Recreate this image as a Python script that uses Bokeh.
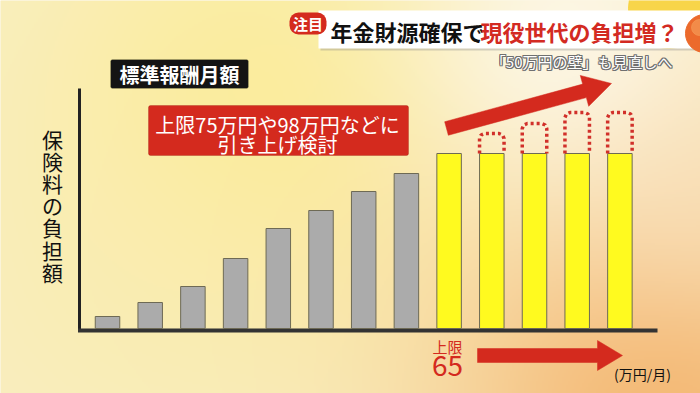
import numpy as np
from bokeh.plotting import figure
from bokeh.models import Range1d, BoxAnnotation
from bokeh.core.properties import value
from bokeh.embed import file_html
from bokeh.resources import INLINE

# ---------------- data ----------------
grade = list(range(1, 14))                      # 標準報酬月額 levels (left -> right)
burden = [14, 28, 44, 72, 102, 120, 139, 157, 177, 177, 177, 177, 177]   # 保険料の負担額 (relative)
capped = [False] * 8 + [True] * 5               # at the 65万円 cap
raised = [None] * 9 + [197, 207, 218, 218]      # burden if cap is raised (dotted)

title_black = "年金財源確保で"
title_red = "現役世代の負担増？"
subtitle = "「50万円の壁」も見直しへ"
badge = "注目"
x_title = "標準報酬月額"
y_title = "保険料の負担額"
note_lines = ["上限75万円や98万円などに", "引き上げ検討"]
cap_label = ["上限", "65"]
unit_label = "(万円/月)"

F = "Noto Sans CJK JP"
RED = "#d42a1e"

# ---------------- mapping helpers (reference pixel -> data) ----------------
SP = 42.7
def dx(px):
    return 1 + (px - 107) / SP
def dy(py):
    return 330 - py

p = figure(width=700, height=393, x_range=Range1d(dx(0), dx(700)),
           y_range=Range1d(dy(393), dy(0)), output_backend="svg",
           toolbar_location=None, min_border=0)
p.axis.visible = False
p.grid.visible = False
p.outline_line_color = None
p.background_fill_color = "#f9efc9"
p.border_fill_color = "#f9efc9"

# ---------------- background gradient ----------------
W, H = 350, 197
gx = (np.arange(W) + 0.5) * 700 / W
gy = 393 - (np.arange(H) + 0.5) * 393 / H
XX, YY = np.meshgrid(gx, gy)
col = np.zeros((H, W, 3))
col[:] = (249, 239, 200)
blobs = [
    (260, 110, 170, (252, 236, 140), 0.75),
    (120, 300, 150, (250, 236, 175), 0.5),
    (670, 400, 170, (244, 182, 112), 0.95),
    (570, 40, 110, (253, 249, 236), 0.85),
    (700, 200, 90, (250, 225, 190), 0.5),
]
for cx, cy, s, c, w in blobs:
    k = w * np.exp(-((XX - cx) ** 2 + (YY - cy) ** 2) / (2 * s * s))
    for i in range(3):
        col[..., i] = col[..., i] * (1 - k) + c[i] * k
img = np.zeros((H, W), dtype=np.uint32)
view = img.view(dtype=np.uint8).reshape((H, W, 4))
view[..., :3] = np.clip(col, 0, 255).astype(np.uint8)
view[..., 3] = 255
bg = p.image_rgba(image=[img], x=dx(0), y=dy(393), dw=dx(700) - dx(0), dh=dy(0) - dy(393))
bg.level = "image"

# decorative ball behind the banner
yb = p.scatter(x=[dx(668)], y=[dy(8)], size=80, color="#f7d23a", alpha=0.9)
yb.level = "image"

# ---------------- title banner ----------------
p.add_layout(BoxAnnotation(left=dx(320), right=dx(710), top=dy(12), bottom=dy(50),
                           fill_color="#888888", fill_alpha=0.35, line_color=None,
                           level="underlay"))
p.add_layout(BoxAnnotation(left=dx(318), right=dx(710), top=dy(10), bottom=dy(48),
                           fill_color="white", fill_alpha=1, line_color=None,
                           level="underlay"))
p.scatter(x=[dx(704)], y=[dy(33)], size=38, color="#ec6a2c")
p.scatter(x=[dx(699)], y=[dy(27)], size=16, color="#f59a55", alpha=0.7)

p.add_layout(BoxAnnotation(left=dx(289), right=dx(326), top=dy(12), bottom=dy(34),
                           fill_color=RED, fill_alpha=1, line_color=None, border_radius=9,
                           level="underlay"))
p.text(x=[dx(307.5)], y=[dy(23)], text=[badge], text_font=value(F), text_font_size="15px",
       text_font_style="bold", text_color="white", text_align="center", text_baseline="middle")
p.text(x=[dx(330)], y=[dy(30)], text=[title_black], text_font=value(F), text_font_size="22px",
       text_font_style="bold", text_color="#111111", text_align="left", text_baseline="middle")
p.text(x=[dx(480)], y=[dy(30)], text=[title_red], text_font=value(F), text_font_size="22px",
       text_font_style="bold", text_color="#d32a22", text_align="left", text_baseline="middle")

# subtitle (outlined)
for ox, oy in [(-1, 0), (1, 0), (0, -1), (0, 1), (-1, -1), (1, 1), (-1, 1), (1, -1)]:
    p.text(x=[dx(672)], y=[dy(61)], text=[subtitle], text_font=value(F), text_font_size="15px",
           text_color="#6f6f6f", text_align="right", text_baseline="middle",
           x_offset=ox, y_offset=oy)
p.text(x=[dx(672)], y=[dy(61)], text=[subtitle], text_font=value(F), text_font_size="15px",
       text_color="white", text_align="right", text_baseline="middle")

# ---------------- x title box ----------------
p.add_layout(BoxAnnotation(left=dx(110), right=dx(248), top=dy(59), bottom=dy(88),
                           fill_color="#141414", fill_alpha=1, line_color="#d8cf7a",
                           line_width=1, border_radius=2, level="underlay"))
p.text(x=[dx(179)], y=[dy(73.5)], text=[x_title], text_font=value(F), text_font_size="20px",
       text_font_style="bold", text_color="white", text_align="center", text_baseline="middle")

# ---------------- red note box ----------------
p.add_layout(BoxAnnotation(left=dx(148), right=dx(408), top=dy(105), bottom=dy(155),
                           fill_color=RED, fill_alpha=1, line_color="#9a1a10",
                           line_width=1, border_radius=2, level="underlay"))
p.text(x=[dx(277)] * 2, y=[dy(124), dy(144)], text=note_lines, text_font=value(F),
       text_font_size="20px", text_color="white", text_align="center", text_baseline="middle")

# ---------------- y title (vertical) ----------------
chars = list(y_title)
p.text(x=[dx(52)] * len(chars), y=[dy(138.5 + 22.1 * i) for i in range(len(chars))],
       text=chars, text_font=value(F), text_font_size="21px", text_color="#111111",
       text_align="center", text_baseline="middle")

# ---------------- axes lines ----------------
p.segment(x0=[dx(79)], y0=[dy(88)], x1=[dx(79)], y1=[dy(331)], line_color="#222222", line_width=3)
p.segment(x0=[dx(77.5)], y0=[0], x1=[dx(657)], y1=[0], line_color="#333333", line_width=4)

# ---------------- bars ----------------
BW = 24.5 / SP
colors = ["#fffa1f" if c else "#ababab" for c in capped]
p.vbar(x=grade, top=burden, bottom=2, width=BW, fill_color=colors, line_color="#6e6a55",
       line_width=1)

# dotted raised outline (rounded top corners)
CR = 5.0             # corner size in px
cxu = CR / SP        # in x data units
xs, ys = [], []
for g, b, r in zip(grade, burden, raised):
    if r is None:
        continue
    L, R = g - BW / 2, g + BW / 2
    xs.append([L, L, L + cxu * 0.3, L + cxu, R - cxu, R - cxu * 0.3, R, R])
    ys.append([b, r - CR, r - CR * 0.3, r, r, r - CR * 0.3, r - CR, b])
p.multi_line(xs=xs, ys=ys, line_color="#d1302a", line_width=3.5, line_dash="3 3")

# ---------------- arrows ----------------
def arrow(sx, sy, tx, ty, hw_shaft, hw_head, head_len):
    L = np.hypot(tx - sx, ty - sy)
    ux, uy = (tx - sx) / L, (ty - sy) / L
    nx, ny = -uy, ux
    hx, hy = tx - head_len * ux, ty - head_len * uy
    pts = [(sx + hw_shaft * nx, sy + hw_shaft * ny), (hx + hw_shaft * nx, hy + hw_shaft * ny),
           (hx + hw_head * nx, hy + hw_head * ny), (tx, ty),
           (hx - hw_head * nx, hy - hw_head * ny), (hx - hw_shaft * nx, hy - hw_shaft * ny),
           (sx - hw_shaft * nx, sy - hw_shaft * ny)]
    p.patch(x=[dx(a) for a, b in pts], y=[dy(b) for a, b in pts], fill_color=RED,
            line_color=RED, line_width=0.5)

arrow(446, 128, 611, 83, 7, 16, 28)
arrow(477, 355, 622, 355, 7, 15, 25)

# ---------------- cap labels ----------------
p.text(x=[dx(447)], y=[dy(346)], text=[cap_label[0]], text_font=value(F), text_font_size="15px",
       text_color=RED, text_align="center", text_baseline="middle")
p.text(x=[dx(447)], y=[dy(365)], text=[cap_label[1]], text_font=value(F), text_font_size="28px",
       text_color=RED, text_align="center", text_baseline="middle")
p.text(x=[dx(642)], y=[dy(373)], text=[unit_label], text_font=value(F), text_font_size="14px",
       text_color="#111111", text_align="center", text_baseline="middle")

open("out.html", "w").write(file_html(p, INLINE))
